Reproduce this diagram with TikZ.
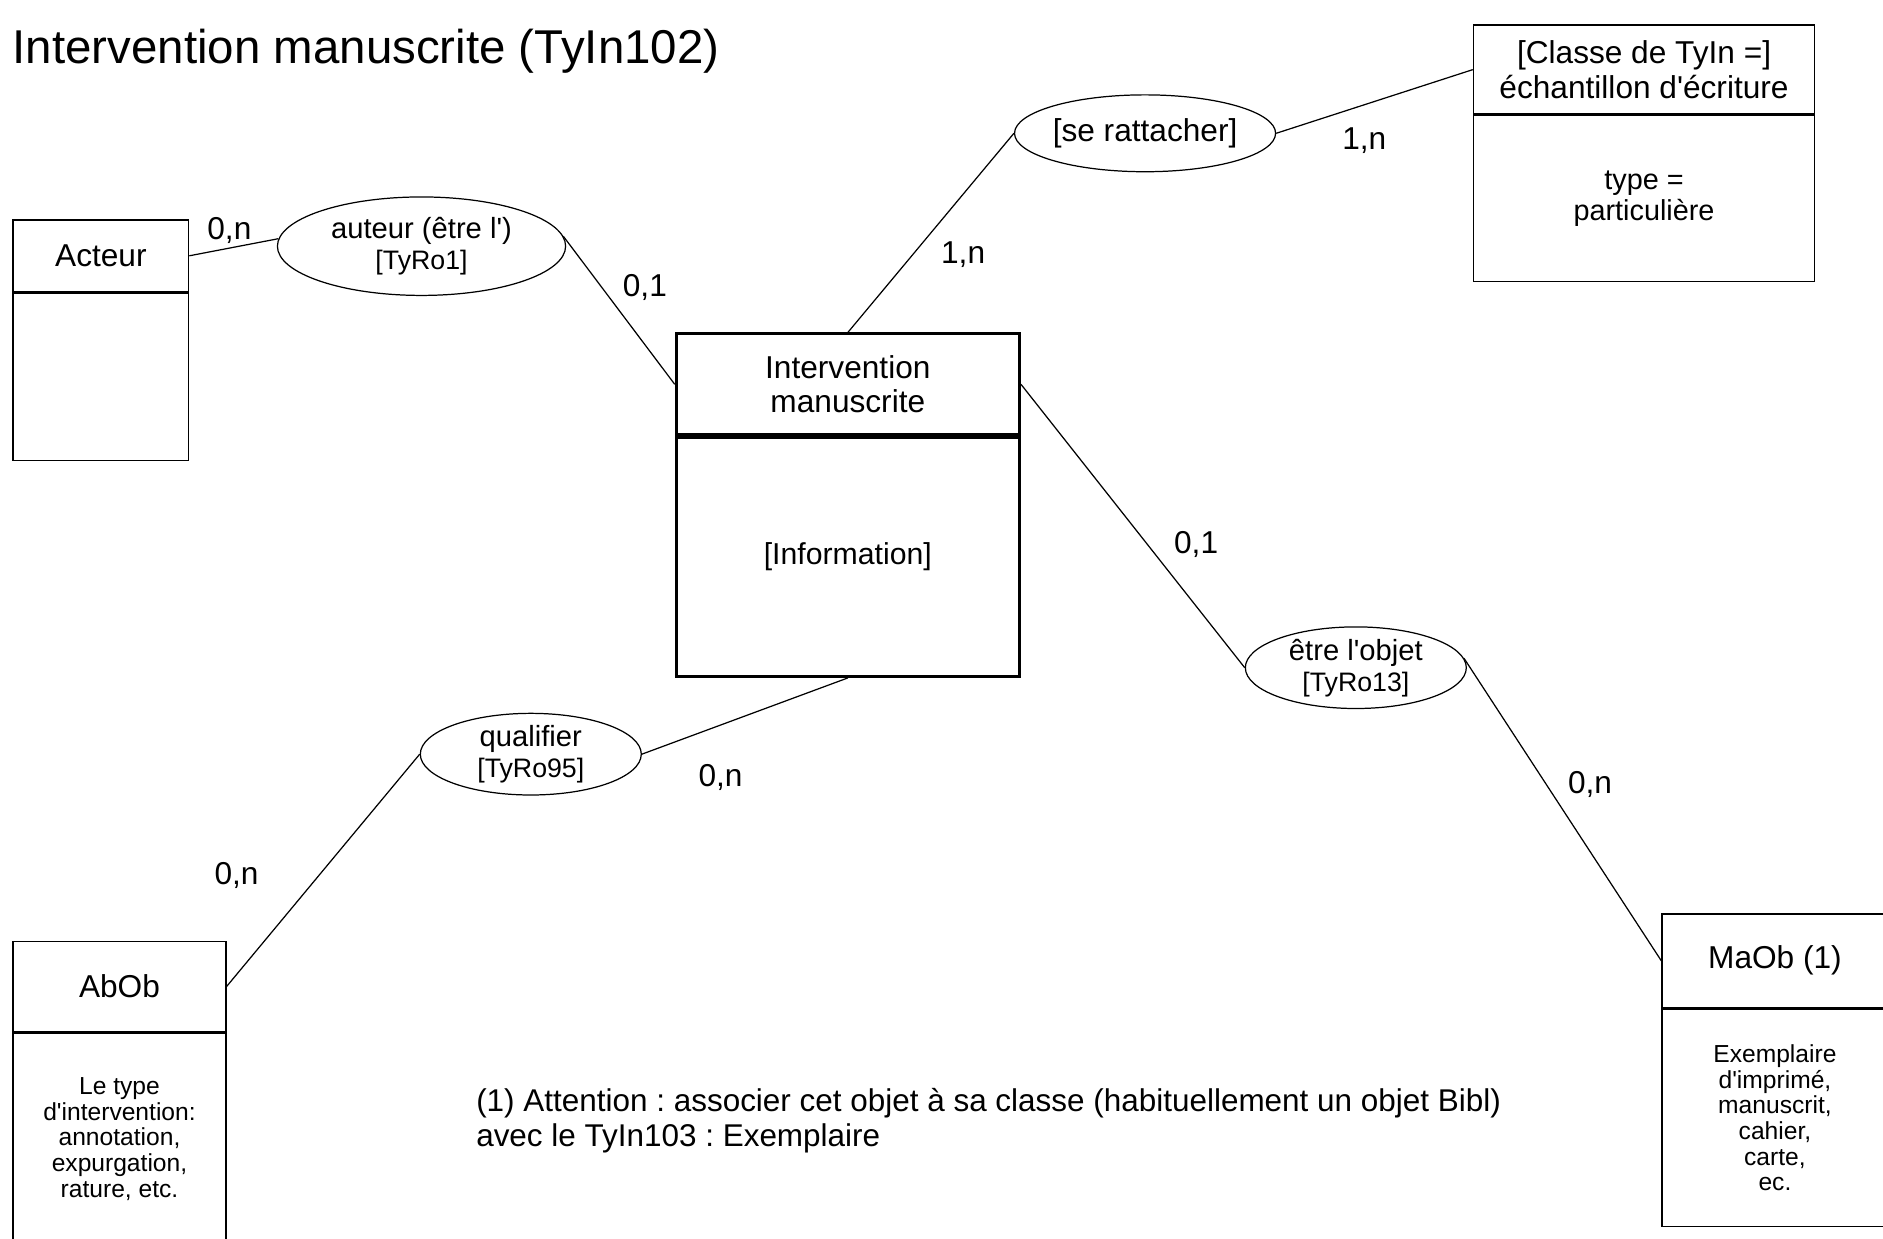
\documentclass[tikz,border=0pt]{standalone}
\usepackage{fontspec}
\setmainfont{Liberation Sans}[Ligatures=TeXOff]
\usepackage{tikz}
\usetikzlibrary{shapes.geometric}
\definecolor{inkblack}{RGB}{0, 0, 0}
\newlength{\pxu}
\setlength{\pxu}{0.12009mm}
\newcommand{\rolecode}[1]{{\fontsize{7.6}{8.8}\selectfont #1}}
\frenchspacing

\begin{document}
\begin{tikzpicture}[
        x=0.12009mm, y=-0.12009mm,
        classhead/.style={rectangle, draw=inkblack, line width=0.45pt, inner sep=0pt, align=center, font=\fontsize{9}{9.8}\selectfont},
        classbody/.style={rectangle, draw=inkblack, line width=0.45pt, inner sep=0pt, align=center, anchor=north, font=\fontsize{7}{7.3}\selectfont},
        association/.style={ellipse, draw=inkblack, line width=0.35pt, inner sep=0pt, align=center, font=\fontsize{8.3}{8.8}\selectfont},
        card/.style={inner sep=0pt, font=\fontsize{9}{10}\selectfont},
        link/.style={line width=0.35pt, color=inkblack}
    ]
    \useasboundingbox (0,0) rectangle (1568,1031);

    % Title
    \node[anchor=base west, inner sep=0pt, font=\fontsize{13.5}{16}\selectfont] (title) at (10,53) {Intervention manuscrite (TyIn102)};

    % Entities
    \node[classhead, minimum width=146\pxu, minimum height=60\pxu] (acteur) at (84,213) {Acteur};
    \node[classbody, minimum width=146\pxu, minimum height=139\pxu] (acteur_attr) at (acteur.south) {};

    \node[classhead, line width=0.8pt, minimum width=286\pxu, minimum height=84\pxu] (interv) at (706,320) {Intervention\\manuscrite};
    \node[classbody, line width=0.8pt, minimum width=286\pxu, minimum height=199\pxu, font=\fontsize{8.6}{9.6}\selectfont] (interv_attr) at (interv.south) {[Information]};

    \node[classhead, minimum width=284\pxu, minimum height=74\pxu] (classe) at (1369,58) {[Classe de TyIn =]\\échantillon d'écriture};
    \node[classbody, minimum width=284\pxu, minimum height=138\pxu, font=\fontsize{8.2}{8.9}\selectfont] (classe_attr) at (classe.south) {type =\\particulière};

    \node[classhead, minimum width=177\pxu, minimum height=75\pxu] (abob) at (99.5,821.5) {AbOb};
    \node[classbody, minimum width=177\pxu, minimum height=176\pxu] (abob_attr) at (abob.south) {Le type\\d'intervention:\\annotation,\\expurgation,\\rature, etc.};

    \node[classhead, minimum width=188\pxu, minimum height=78\pxu] (maob) at (1478,800) {MaOb (1)};
    \node[classbody, minimum width=188\pxu, minimum height=181\pxu] (maob_attr) at (maob.south) {Exemplaire\\d'imprimé,\\manuscrit,\\cahier,\\carte,\\ec.};

    % Associations
    \node[association, minimum width=240\pxu, minimum height=82\pxu] (auteur) at (351,205) {auteur (être l')\\\rolecode{[TyRo1]}};
    \node[association, minimum width=209\pxu, minimum height=64\pxu, font=\fontsize{9}{10}\selectfont] (rattacher) at (953.5,111) {[se rattacher]};
    \node[association, minimum width=184\pxu, minimum height=68\pxu] (qualifier) at (442,628) {qualifier\\\rolecode{[TyRo95]}};
    \node[association, minimum width=184\pxu, minimum height=66\pxu] (objet) at (1129,556) {être l'objet\\\rolecode{[TyRo13]}};

    % Links
    \draw[link] (acteur.east) -- (auteur.177);
    \draw[link] (auteur.4) -- (interv.west);
    \draw[link] (interv.north) -- (rattacher.west);
    \draw[link] (rattacher.east) -- (classe.west);
    \draw[link] (interv.east) -- (objet.west);
    \draw[link] (objet.5) -- (maob.west);
    \draw[link] (abob.east) -- (qualifier.west);
    \draw[link] (qualifier.east) -- (interv_attr.south);

    % Cardinalities
    \node[card] (card_acteur) at (191,192) {0,n};
    \node[card] (card_auteur) at (537,239) {0,1};
    \node[card] (card_rattacher) at (802,212) {1,n};
    \node[card] (card_classe) at (1136,117) {1,n};
    \node[card] (card_objet) at (996,453) {0,1};
    \node[card] (card_maob) at (1324,653) {0,n};
    \node[card] (card_qualifier) at (600,647) {0,n};
    \node[card] (card_abob) at (197,729) {0,n};

    % Note
    \node[anchor=west, inner sep=0pt, align=left, font=\fontsize{8.95}{9.9}\selectfont] (note) at (396,933) {(1) Attention : associer cet objet à sa classe (habituellement un objet Bibl)\\avec le TyIn103 : Exemplaire};

\end{tikzpicture}
\end{document}
